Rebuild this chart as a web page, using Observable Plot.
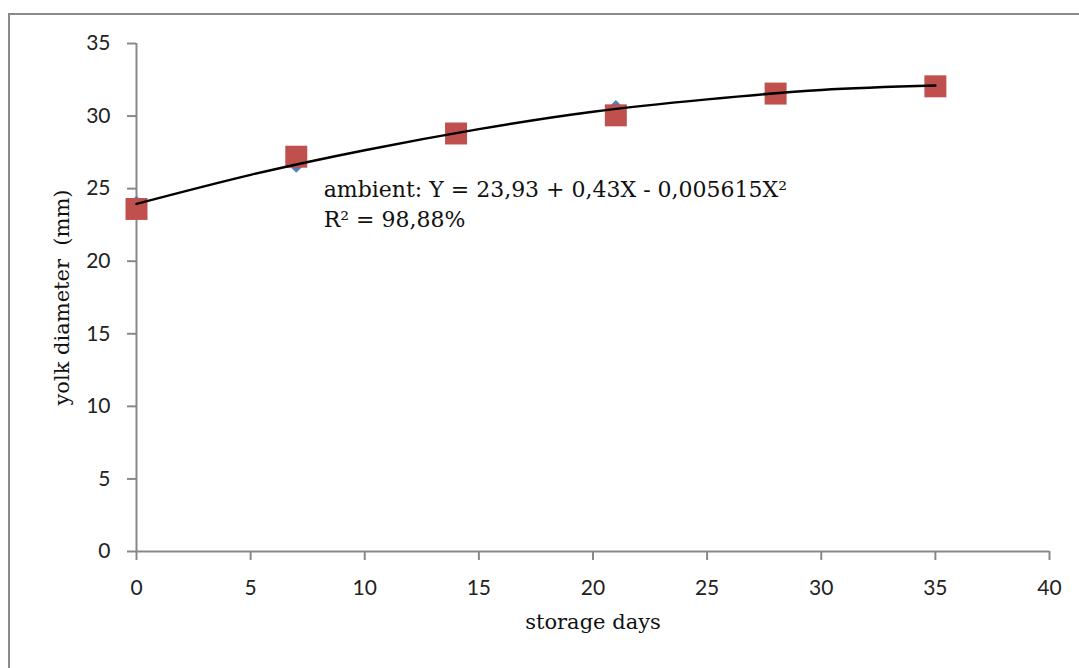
<!DOCTYPE html>
<html>
<head>
<meta charset="utf-8">
<script src="https://cdn.jsdelivr.net/npm/d3@7"></script>
<script src="https://cdn.jsdelivr.net/npm/@observablehq/plot@0.6"></script>
<style>
  html, body { margin: 0; padding: 0; background: #fff; }
  #wrap { position: relative; width: 1079px; height: 668px; overflow: hidden; }
  #frame { position: absolute; left: 8px; top: 13px; width: 1100px; height: 700px;
           border-left: 2px solid #8a8a8a; border-top: 2px solid #8a8a8a; }
  #chart { position: absolute; left: 0; top: 0; }
</style>
</head>
<body>
<div id="wrap"><div id="frame"></div><div id="chart"></div></div>
<script>
// storage days
const days = [0, 7, 14, 21, 28, 35];
// ambient series (blue diamonds, mostly hidden behind the squares)
const ambient = [23.9, 26.7, 28.9, 30.5, 31.5, 32.1];
// second series (red squares)
const second = [23.6, 27.2, 28.8, 30.05, 31.55, 32.05];
// trend curve
const curveX = [0, 5, 10, 15, 20, 25, 30, 35];
const curveY = [23.95, 25.95, 27.65, 29.1, 30.3, 31.15, 31.8, 32.1];
// ticks
const xTicks = [0, 5, 10, 15, 20, 25, 30, 35, 40];
const yTicks = [0, 5, 10, 15, 20, 25, 30, 35];
// texts
const xTitle = "storage days";
const yTitle = "yolk diameter  (mm)";
const eqText = "ambient: Y = 23,93 + 0,43X - 0,005615X²";
const r2Text = "R² = 98,88%";

const blueData = days.map((d, i) => ({x: d, y: ambient[i]}));
const redData = days.map((d, i) => ({x: d, y: second[i]}));
const curveData = curveX.map((d, i) => ({x: d, y: curveY[i]}));

const serif = "'DejaVu Serif', 'Liberation Serif', serif";

const chart = Plot.plot({
  width: 1079,
  height: 668,
  marginLeft: 136,
  marginRight: 30,
  marginTop: 43,
  marginBottom: 117,
  style: {fontFamily: "Lato, sans-serif", fontSize: "21px", color: "#222", background: "transparent"},
  x: {domain: [0, 40]},
  y: {domain: [0, 35]},
  marks: [
    Plot.axisX({ticks: xTicks, tickSize: 9, tickPadding: 20, stroke: "#888", strokeWidth: 2, fill: "#222", label: null, fontSize: 21}),
    Plot.axisY({ticks: yTicks, tickSize: 9, tickPadding: 17, stroke: "#888", strokeWidth: 2, fill: "#222", label: null, fontSize: 21}),
    Plot.ruleX([0], {stroke: "#888", strokeWidth: 2}),
    Plot.ruleY([0], {stroke: "#888", strokeWidth: 2}),
    Plot.dot(blueData, {x: "x", y: "y", symbol: "diamond2", r: 8, fill: "#4F81BD", stroke: "none"}),
    Plot.dot(redData, {x: "x", y: "y", symbol: "square", r: 12.4, fill: "#C0504D", stroke: "none"}),
    Plot.line(curveData, {x: "x", y: "y", curve: "natural", stroke: "#000", strokeWidth: 2.5}),
    Plot.text([eqText], {x: 8.2, y: 24.9, text: d => d, textAnchor: "start", fontFamily: serif, fontSize: 22, fill: "#111"}),
    Plot.text([r2Text], {x: 8.2, y: 22.85, text: d => d, textAnchor: "start", fontFamily: serif, fontSize: 22, fill: "#111"}),
    Plot.text([xTitle], {frameAnchor: "bottom", dy: 77, textAnchor: "middle", text: d => d, fontFamily: serif, fontSize: 21, fill: "#111"}),
    Plot.text([yTitle], {frameAnchor: "left", dx: -74, rotate: -90, textAnchor: "middle", text: d => d, fontFamily: serif, fontSize: 21, fill: "#111"})
  ]
});
document.getElementById("chart").appendChild(chart);
</script>
</body>
</html>
